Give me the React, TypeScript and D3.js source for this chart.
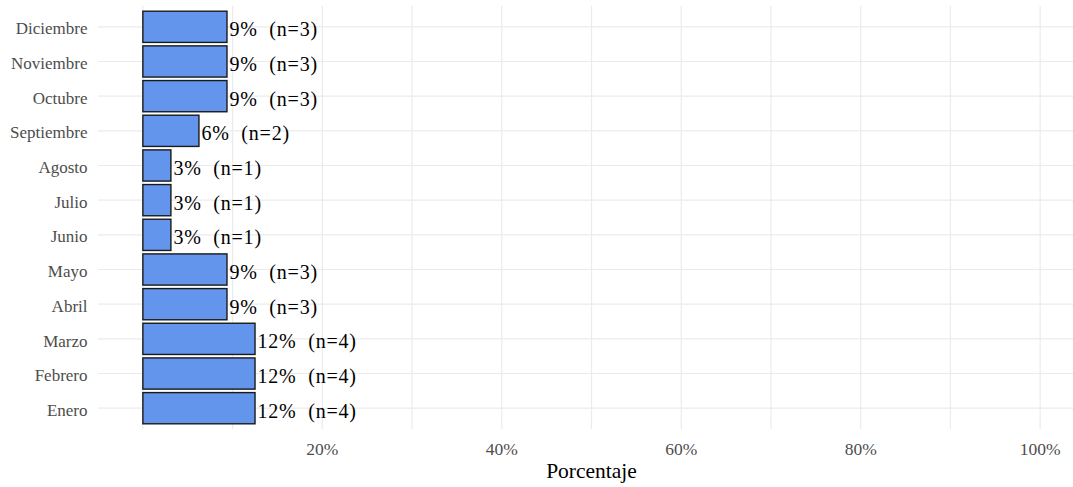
import React from "react";
import * as d3 from "d3";

const months = ["Enero", "Febrero", "Marzo", "Abril", "Mayo", "Junio", "Julio", "Agosto", "Septiembre", "Octubre", "Noviembre", "Diciembre"];
const counts = [4, 4, 4, 3, 3, 1, 1, 1, 2, 3, 3, 3];
const gridBreaks = [0, 0.1, 0.2, 0.3, 0.4, 0.5, 0.6, 0.7, 0.8, 0.9, 1.0];
const tickBreaks = [0.2, 0.4, 0.6, 0.8, 1.0];
const xTitle = "Porcentaje";

const W = 1073;
const H = 487;
const panel = { left: 98, top: 6, right: 1085, bottom: 429 };
const FONT = "'Liberation Serif', 'Times New Roman', serif";

function roundHalfEven(v: number): number {
  const f = Math.floor(v);
  const d = v - f;
  if (Math.abs(d - 0.5) < 1e-9) return f % 2 === 0 ? f : f + 1;
  return Math.round(v);
}

export default function App() {
  const total = d3.sum(counts);
  const data = months.map((m, i) => ({ m, n: counts[i], p: counts[i] / total }));

  const x = d3.scaleLinear().domain([-0.05, 1.05]).range([panel.left, panel.right]);
  const order = [...months].reverse();
  const y = d3
    .scalePoint<string>()
    .domain(order)
    .range([panel.top, panel.bottom])
    .padding(0.6);
  const step = y.step();
  const barH = step * 0.9;
  const fmt = d3.format(".0%");

  return (
    <svg width={W} height={H} style={{ position: "absolute", left: 0, top: 0, background: "#fff" }}>
      <defs>
        <clipPath id="pclip">
          <rect x={0} y={0} width={W} height={H} />
        </clipPath>
      </defs>
      <g clipPath="url(#pclip)">
        {months.map((m) => (
          <line key={"h" + m} x1={panel.left} x2={panel.right} y1={y(m)} y2={y(m)} stroke="#ebebeb" strokeWidth={1.2} />
        ))}
        {gridBreaks.map((b) => (
          <line key={"v" + b} x1={x(b)} x2={x(b)} y1={panel.top} y2={panel.bottom} stroke="#ebebeb" strokeWidth={1.2} />
        ))}
        {data.map((d) => (
          <rect
            key={"b" + d.m}
            x={x(0)}
            y={(y(d.m) as number) - barH / 2}
            width={x(d.p) - x(0)}
            height={barH}
            fill="#6495ED"
            stroke="#1a1a1a"
            strokeWidth={1.4}
          />
        ))}
        {data.map((d) => (
          <text
            key={"l" + d.m}
            x={x(d.p) + 2.5}
            y={y(d.m)}
            dy="0.48em"
            fontFamily={FONT}
            fontSize={20}
            letterSpacing={0.8}
            fill="#000"
            style={{ whiteSpace: "pre" }}
          >
            {`${roundHalfEven(d.p * 100)}%  (n=${d.n})`}
          </text>
        ))}
      </g>
      {months.map((m) => (
        <text key={"y" + m} x={87.5} y={y(m)} dy="0.45em" textAnchor="end" fontFamily={FONT} fontSize={17} fill="#4d4d4d">
          {m}
        </text>
      ))}
      {tickBreaks.map((b) => (
        <text key={"t" + b} x={x(b)} y={455} textAnchor="middle" fontFamily={FONT} fontSize={17.5} fill="#4d4d4d">
          {fmt(b)}
        </text>
      ))}
      <text x={(panel.left + panel.right) / 2} y={478} textAnchor="middle" fontFamily={FONT} fontSize={21.5} fill="#000">
        {xTitle}
      </text>
    </svg>
  );
}
